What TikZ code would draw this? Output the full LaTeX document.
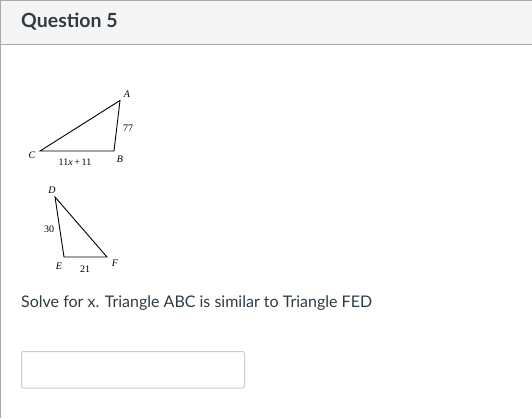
\documentclass[tikz,border=0pt]{standalone}
\usepackage{fontspec}
\setmainfont{Lato}
\newfontfamily\trifont{Liberation Serif}
\usepackage{tikz}
\definecolor{hdrfill}{HTML}{F5F5F5}
\definecolor{frame}{HTML}{AAAAAA}
\definecolor{ink}{HTML}{2D3B45}
\definecolor{boxline}{HTML}{C7CDD1}

\begin{document}
\begin{tikzpicture}[x=1pt,y=-1pt,
		lbl/.style={font=\trifont\fontsize{10}{11}\selectfont, inner sep=0pt},
		side/.style={line width=0.9pt, line join=miter}]
				\useasboundingbox (0,0) rectangle (532,418);
				% header
				\fill[hdrfill] (0.5,0.5) rectangle (532,44.5);
				\draw[frame, line width=1pt] (532,0.5) -- (0.5,0.5) -- (0.5,418);
				\draw[frame, line width=1pt] (0.5,44.5) -- (532,44.5);
				\node[anchor=base west, inner sep=0pt, text=ink, font=\bfseries\fontsize{19.5}{22}\selectfont] (title) at (21,27.5) {Question 5};
				% triangle ABC
				\coordinate (A) at (120,100.5);
				\coordinate (B) at (114,151);
				\coordinate (C) at (40,151);
				\draw[side] (A) -- (B) -- (C) -- cycle;
				\node[lbl] (lA) at (127,94.5) {\textit{A}};
				\node[lbl] (lB) at (120,159) {\textit{B}};
				\node[lbl] (lC) at (32,155) {\textit{C}};
				\node[lbl] (lAB) at (128,128) {77};
				\node[lbl] (lBC) at (75,162.5) {11\textit{x}\,+\,11};
				% triangle DEF
				\coordinate (D) at (55,197);
				\coordinate (E) at (64,257);
				\coordinate (F) at (107,257);
				\draw[side] (D) -- (E) -- (F) -- cycle;
				\node[lbl] (lD) at (52,190.5) {\textit{D}};
				\node[lbl] (lE) at (59,266) {\textit{E}};
				\node[lbl] (lF) at (115,263) {\textit{F}};
				\node[lbl] (lDE) at (49,229) {30};
				\node[lbl] (lEF) at (85,269) {21};
				% question text and answer box
				\node[anchor=base west, inner sep=0pt, text=ink, font=\fontsize{16}{19}\selectfont] (task) at (21,307.3) {Solve for x. Triangle ABC is similar to Triangle FED};
				\draw[boxline, line width=1pt, rounded corners=2pt] (21.5,351.5) rectangle (244.5,388) node[pos=.5] (answer) {};
			\end{tikzpicture}
\end{document}
